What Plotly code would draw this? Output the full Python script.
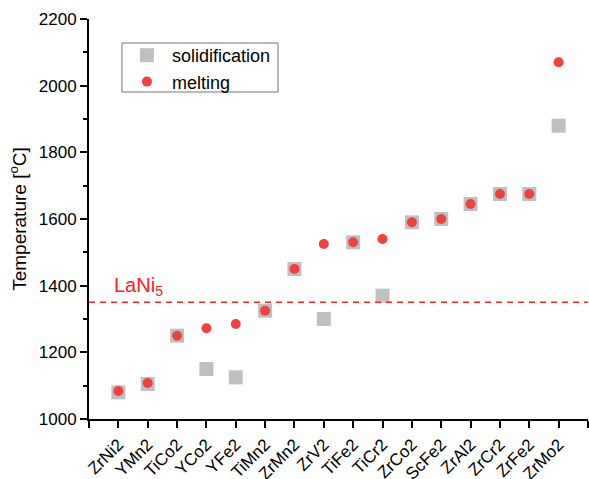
import plotly.graph_objects as go

# Laves-phase compounds, ordered by melting point
compounds = ["ZrNi2", "YMn2", "TiCo2", "YCo2", "YFe2", "TiMn2", "ZrMn2", "ZrV2",
             "TiFe2", "TiCr2", "ZrCo2", "ScFe2", "ZrAl2", "ZrCr2", "ZrFe2", "ZrMo2"]
solidification = [1080, 1105, 1250, 1150, 1125, 1325, 1450, 1300,
                  1530, 1370, 1590, 1600, 1645, 1675, 1675, 1880]
melting = [1084, 1108, 1250, 1272, 1285, 1325, 1450, 1525,
           1530, 1540, 1590, 1600, 1645, 1675, 1675, 2070]
lani5_temp = 1350

FONT = "Liberation Sans, Arial, sans-serif"
positions = list(range(1, len(compounds) + 1))

fig = go.Figure()
fig.add_trace(go.Scatter(
    x=positions, y=solidification, mode="markers", name="solidification",
    marker=dict(symbol="square", size=14, color="#c0c0c0", line=dict(width=0)),
))
fig.add_trace(go.Scatter(
    x=positions, y=melting, mode="markers", name="melting",
    marker=dict(symbol="circle", size=10, color="#f04040", line=dict(width=0)),
))

fig.add_hline(y=lani5_temp, line=dict(color="#ff2020", width=1.5, dash="6px,5px"))
fig.add_annotation(
    x=0.78, y=lani5_temp, xref="x", yref="y", text="LaNi<sub>5</sub>",
    showarrow=False, xanchor="left", yanchor="bottom", yshift=1,
    font=dict(family=FONT, size=20, color="#ff2020"),
)

# tight frame around the legend entries
fig.add_shape(type="rect", xref="paper", yref="paper",
              x0=0.0661, x1=0.3788, y0=0.8175, y1=0.94,
              line=dict(color="#777777", width=1), fillcolor="rgba(0,0,0,0)")

fig.update_layout(
    width=589, height=479,
    margin=dict(l=89, r=1, t=19, b=60, autoexpand=False),
    paper_bgcolor="white", plot_bgcolor="white",
    font=dict(family=FONT, size=17, color="black"),
    showlegend=True,
    legend=dict(
        x=0.066, y=0.955, xanchor="left", yanchor="top",
        borderwidth=0, bgcolor="rgba(0,0,0,0)",
        itemwidth=40,
        font=dict(family=FONT, size=18), tracegroupgap=0,
    ),
    xaxis=dict(
        range=[0, len(compounds) + 1],
        tickmode="array",
        tickvals=list(range(0, len(compounds) + 2)),
        ticktext=[""] + compounds + [""],
        tickangle=-45,
        ticks="outside", ticklen=7, tickwidth=2, tickcolor="black",
        showline=True, linewidth=2, linecolor="black",
        showgrid=False, zeroline=False, automargin=False,
        tickfont=dict(family=FONT, size=17),
    ),
    yaxis=dict(
        range=[1000, 2200],
        dtick=200, tick0=1000,
        ticks="outside", ticklen=7, tickwidth=2, tickcolor="black",
        minor=dict(dtick=100, ticks="outside", ticklen=4, tickwidth=2,
                   tickcolor="black", showgrid=False),
        showline=True, linewidth=2, linecolor="black",
        showgrid=False, zeroline=False, automargin=False,
        tickfont=dict(family=FONT, size=17),
        title=dict(text="Temperature [<sup>o</sup>C]",
                   font=dict(family=FONT, size=19), standoff=7),
    ),
)

fig.write_html("out.html")
